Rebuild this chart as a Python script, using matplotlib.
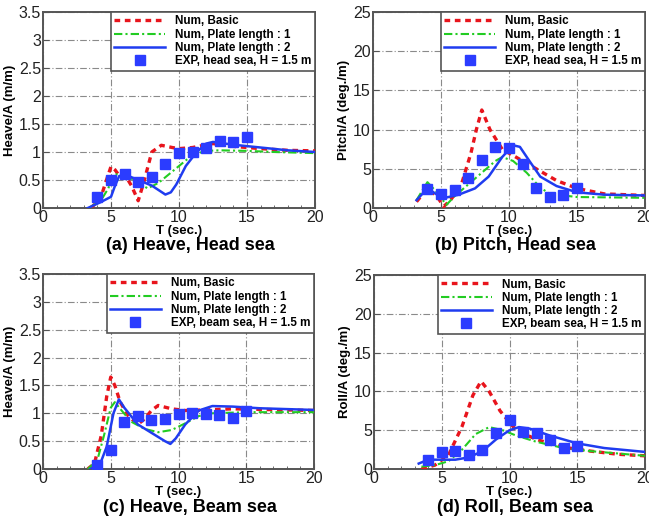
import matplotlib
matplotlib.use("Agg")
import matplotlib.pyplot as plt
from matplotlib.ticker import MultipleLocator, FormatStrFormatter

plt.rcParams['font.family'] = ['Liberation Sans', 'DejaVu Sans']

# ---------------- data ----------------
# (a) Heave, Head sea
a_basic_T = [3.5, 4.2, 4.6, 5.0, 5.3, 5.6, 6.0, 6.5, 7.0, 7.4, 8.0, 8.7, 9.5, 10.0, 11.0, 12.0, 12.5, 14.0, 16.0, 18.0, 20.0]
a_basic_v = [0.0, 0.15, 0.45, 0.74, 0.68, 0.58, 0.6, 0.4, 0.13, 0.45, 1.0, 1.12, 1.08, 1.06, 1.08, 1.13, 1.15, 1.1, 1.06, 1.03, 1.02]
a_pl1_T = [3.4, 4.3, 4.8, 5.2, 6.0, 7.0, 7.7, 8.5, 9.0, 10.0, 11.0, 12.0, 13.0, 15.0, 17.0, 20.0]
a_pl1_v = [0.0, 0.15, 0.35, 0.6, 0.6, 0.45, 0.35, 0.45, 0.55, 0.75, 0.95, 1.02, 1.03, 1.02, 1.0, 0.98]
a_pl2_T = [3.3, 4.2, 5.0, 5.3, 5.6, 6.0, 7.0, 8.0, 9.0, 9.4, 9.8, 10.5, 11.3, 12.0, 12.5, 14.0, 16.0, 18.0, 20.0]
a_pl2_v = [0.0, 0.1, 0.2, 0.4, 0.57, 0.6, 0.5, 0.4, 0.24, 0.28, 0.42, 0.75, 1.0, 1.15, 1.18, 1.13, 1.08, 1.03, 1.0]
a_exp_T = [4, 5, 6, 7, 8, 9, 10, 11, 12, 13, 14, 15]
a_exp_v = [0.2, 0.5, 0.6, 0.47, 0.55, 0.78, 0.98, 1.0, 1.08, 1.2, 1.17, 1.27]

# (b) Pitch, Head sea
b_basic_T = [3.2, 4.0, 4.7, 5.2, 5.7, 6.5, 7.2, 7.6, 8.0, 8.6, 9.5, 10.5, 12.0, 13.5, 15.0, 17.0, 20.0]
b_basic_v = [0.8, 2.5, 1.5, 0.2, 1.0, 3.0, 7.0, 10.0, 12.5, 10.0, 7.5, 6.5, 5.0, 3.5, 2.5, 1.8, 1.6]
b_pl1_T = [3.2, 4.0, 4.7, 5.4, 6.0, 7.0, 8.0, 9.0, 9.5, 10.3, 11.3, 12.3, 13.0, 15.0, 20.0]
b_pl1_v = [1.0, 3.3, 2.0, 0.4, 1.5, 3.0, 4.5, 6.0, 6.5, 6.0, 4.5, 2.6, 1.8, 1.4, 1.3]
b_pl2_T = [3.2, 4.0, 4.8, 5.3, 6.3, 7.5, 8.5, 9.5, 10.3, 10.8, 11.5, 12.3, 13.5, 15.0, 17.0, 20.0]
b_pl2_v = [1.0, 2.5, 1.6, 1.3, 1.7, 2.5, 4.0, 6.5, 8.0, 7.8, 6.0, 4.0, 2.8, 2.0, 1.7, 1.6]
b_exp_T = [4, 5, 6, 7, 8, 9, 10, 11, 12, 13, 14, 15]
b_exp_v = [2.4, 1.8, 2.3, 3.8, 6.1, 7.8, 7.6, 5.6, 2.6, 1.4, 1.6, 2.5]

# (c) Heave, Beam sea
c_basic_T = [3.3, 3.8, 4.3, 4.7, 5.0, 5.3, 5.7, 6.3, 7.0, 7.5, 8.0, 8.5, 9.5, 10.5, 12.0, 14.0, 16.0, 20.0]
c_basic_v = [0.0, 0.1, 0.6, 1.3, 1.65, 1.5, 1.2, 0.95, 0.8, 0.9, 1.05, 1.14, 1.08, 1.05, 1.06, 1.08, 1.07, 1.05]
c_pl1_T = [3.3, 4.0, 4.5, 5.0, 5.3, 5.8, 6.5, 7.5, 8.5, 9.5, 10.5, 11.5, 12.5, 15.0, 20.0]
c_pl1_v = [0.0, 0.15, 0.6, 1.1, 1.2, 1.05, 0.85, 0.72, 0.66, 0.7, 0.82, 0.95, 1.0, 1.02, 1.02]
c_pl2_T = [3.5, 4.2, 4.7, 5.2, 5.6, 6.0, 7.0, 8.0, 9.0, 9.4, 9.8, 10.5, 11.5, 12.5, 14.0, 16.0, 20.0]
c_pl2_v = [0.0, 0.08, 0.4, 1.0, 1.25, 1.1, 0.8, 0.65, 0.5, 0.45, 0.55, 0.8, 1.05, 1.13, 1.12, 1.09, 1.06]
c_exp_T = [4, 5, 6, 7, 8, 9, 10, 11, 12, 13, 14, 15]
c_exp_v = [0.07, 0.35, 0.85, 0.95, 0.88, 0.9, 0.98, 1.0, 0.98, 0.97, 0.92, 1.04]

# (d) Roll, Beam sea
d_basic_T = [3.5, 4.5, 5.5, 6.5, 7.3, 7.9, 8.5, 9.3, 10.0, 10.5, 12.0, 14.0, 16.0, 18.0, 20.0]
d_basic_v = [0.0, 0.5, 1.8, 5.5, 9.5, 11.3, 10.0, 7.5, 6.0, 5.0, 3.8, 2.8, 2.3, 1.9, 1.7]
d_pl1_T = [3.5, 4.5, 5.5, 6.5, 7.5, 8.5, 9.5, 10.5, 12.0, 14.0, 16.0, 18.0, 20.0]
d_pl1_v = [0.3, 0.5, 1.0, 2.5, 4.5, 5.4, 5.0, 4.3, 3.5, 2.7, 2.3, 2.0, 1.7]
d_pl2_T = [3.3, 4.0, 5.0, 6.0, 7.0, 8.0, 9.0, 10.0, 10.7, 11.5, 13.0, 15.0, 17.0, 20.0]
d_pl2_v = [0.7, 1.2, 1.2, 1.2, 1.5, 2.3, 3.8, 5.0, 5.4, 5.2, 4.3, 3.3, 2.7, 2.2]
d_exp_T = [4, 5, 6, 7, 8, 9, 10, 11, 12, 13, 14, 15]
d_exp_v = [1.1, 2.2, 2.3, 1.8, 2.5, 4.7, 6.3, 4.8, 4.7, 3.8, 2.7, 2.9]

labels = ["Num, Basic", "Num, Plate length : 1", "Num, Plate length : 2"]
exp_labels = ["EXP, head sea, H = 1.5 m", "EXP, beam sea, H = 1.5 m"]
ylabels = ["Heave/A (m/m)", "Pitch/A (deg./m)", "Heave/A (m/m)", "Roll/A (deg./m)"]
captions = ["(a) Heave, Head sea", "(b) Pitch, Head sea", "(c) Heave, Beam sea", "(d) Roll, Beam sea"]

panels = [
    (a_basic_T, a_basic_v, a_pl1_T, a_pl1_v, a_pl2_T, a_pl2_v, a_exp_T, a_exp_v, exp_labels[0], 3.5, 0.5),
    (b_basic_T, b_basic_v, b_pl1_T, b_pl1_v, b_pl2_T, b_pl2_v, b_exp_T, b_exp_v, exp_labels[0], 25, 5),
    (c_basic_T, c_basic_v, c_pl1_T, c_pl1_v, c_pl2_T, c_pl2_v, c_exp_T, c_exp_v, exp_labels[1], 3.5, 0.5),
    (d_basic_T, d_basic_v, d_pl1_T, d_pl1_v, d_pl2_T, d_pl2_v, d_exp_T, d_exp_v, exp_labels[1], 25, 5),
]

W, H = 649, 520
fig = plt.figure(figsize=(W / 100, H / 100), dpi=100)

# axes boxes in pixels: left, top, right, bottom
boxes = [(43, 12, 315, 208), (373, 12, 645, 208), (43, 274, 314, 469), (374, 275, 645, 469)]
cap_pos = [(190, 246), (515, 246), (190, 507), (515, 507)]

for i, (bT, bv, p1T, p1v, p2T, p2v, eT, ev, elab, ymax, ystep) in enumerate(panels):
    l, t, r, b = boxes[i]
    ax = fig.add_axes([l / W, 1 - b / H, (r - l) / W, (b - t) / H])
    ax.plot(bT, bv, color='#e8141c', lw=2.4, ls=(0, (1.7, 1.4)), label=labels[0], zorder=3)
    ax.plot(p1T, p1v, color='#22cc22', lw=1.5, ls=(0, (4, 1.5, 1, 1.5)), label=labels[1], zorder=3)
    ax.plot(p2T, p2v, color='#1f3cf0', lw=1.8, ls='-', label=labels[2], zorder=3)
    ax.plot(eT, ev, ls='none', marker='s', ms=7.5, color='#2b3cff', mec='#2b3cff', label=elab, zorder=4)
    ax.set_xlim(0, 20)
    ax.set_ylim(0, ymax)
    ax.xaxis.set_major_locator(MultipleLocator(5))
    ax.xaxis.set_minor_locator(MultipleLocator(1))
    ax.yaxis.set_major_locator(MultipleLocator(ystep))
    ax.yaxis.set_major_formatter(FormatStrFormatter('%g'))
    ax.grid(True, which='major', color='#8a8a8a', lw=0.8, ls=(0, (6, 2, 1, 2)))
    ax.set_axisbelow(True)
    ax.tick_params(which='both', direction='in', top=False, right=False, labelsize=11.5, pad=1.5,
                   color='#555555', labelcolor='#222222')
    ax.tick_params(which='major', length=4)
    ax.tick_params(which='minor', length=2.5)
    for s in ax.spines.values():
        s.set_color('#555555')
        s.set_linewidth(1.4)
    ax.set_xlabel("T (sec.)", fontsize=9.5, fontweight='bold', labelpad=0)
    ax.set_ylabel(ylabels[i], fontsize=9.5, fontweight='bold', labelpad=2)
    leg = ax.legend(loc='upper right', prop={'weight': 'bold', 'size': 8.4},
                    borderaxespad=0, handlelength=4.3, handletextpad=0.9, labelspacing=0.1,
                    borderpad=0.3, fancybox=False, framealpha=1, edgecolor='#555555')
    leg.get_frame().set_linewidth(1.2)
    fig.text(cap_pos[i][0] / W, 1 - cap_pos[i][1] / H, captions[i], ha='center', va='center',
             fontsize=13, fontweight='bold')

fig.savefig("out.png", dpi=100)
